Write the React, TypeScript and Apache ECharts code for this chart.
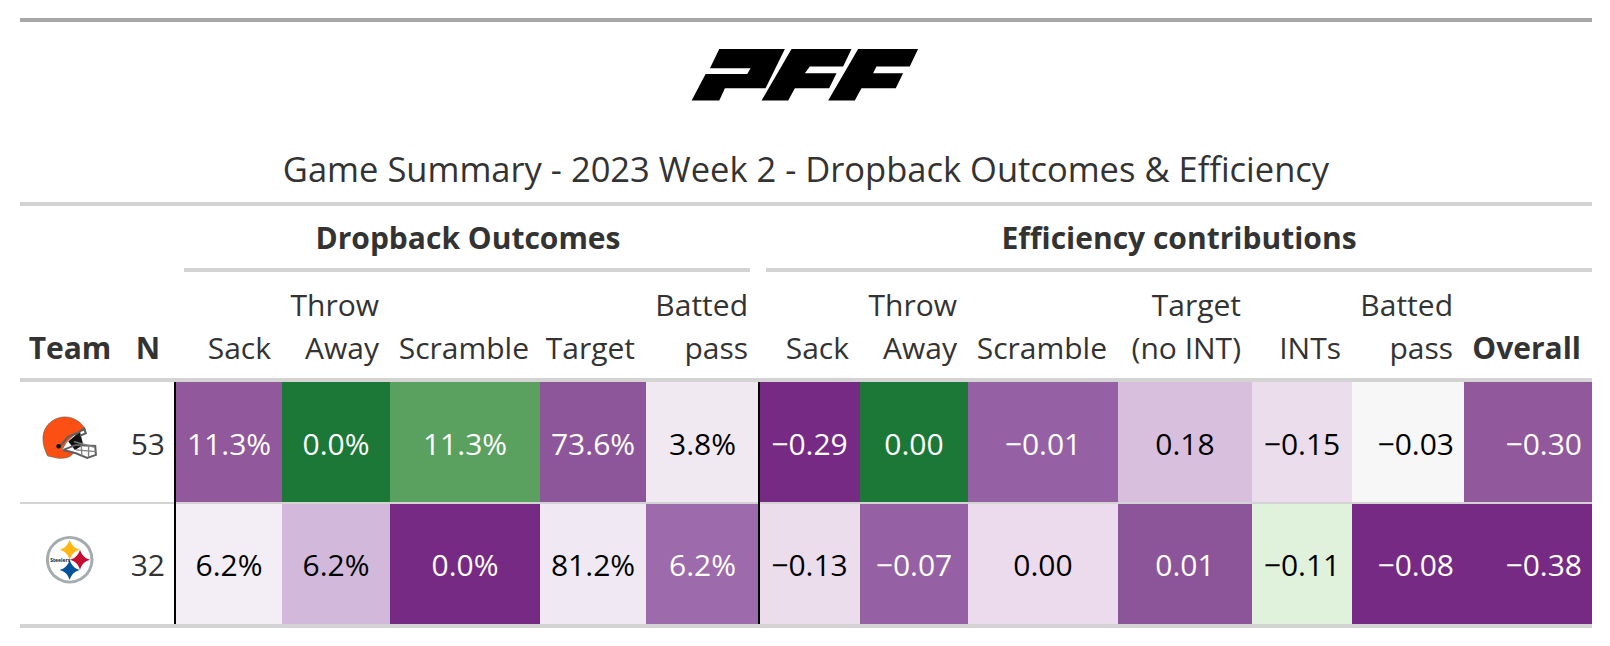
import React, { useEffect, useRef } from "react";
import * as echarts from "echarts";

const TITLE = "Game Summary - 2023 Week 2 - Dropback Outcomes & Efficiency";
const GROUP_HEADERS = ["Dropback Outcomes", "Efficiency contributions"];
const TEAMS = ["Cleveland Browns", "Pittsburgh Steelers"];
const DROPBACKS = [53, 32];
const COLUMN_LABELS = [
  ["Sack"], ["Throw", "Away"], ["Scramble"], ["Target"], ["Batted", "pass"],
  ["Sack"], ["Throw", "Away"], ["Scramble"], ["Target", "(no INT)"], ["INTs"], ["Batted", "pass"], ["Overall"],
];
const BROWNS_OUTCOMES = [11.3, 0.0, 11.3, 73.6, 3.8];
const BROWNS_EFFICIENCY = [-0.29, 0.0, -0.01, 0.18, -0.15, -0.03, -0.3];
const STEELERS_OUTCOMES = [6.2, 6.2, 0.0, 81.2, 6.2];
const STEELERS_EFFICIENCY = [-0.13, -0.07, 0.0, 0.01, -0.11, -0.08, -0.38];
const BROWNS_COLORS = ["#91589b", "#1b7837", "#5aa05f", "#8e569a", "#f1e9f2", "#762a83", "#1b7837", "#9561a4", "#d8bfdd", "#ebddec", "#f7f7f7", "#91589b"];
const STEELERS_COLORS = ["#f3eef6", "#d2b9db", "#762a83", "#f0e8f2", "#9d6bab", "#ebddec", "#9561a4", "#ebdbed", "#8d5599", "#e0f1dc", "#762a83", "#762a83"];

// layout of the table
const COLUMN_EDGES = [176, 282, 390, 540, 646, 759, 860, 968, 1118, 1252, 1352, 1464, 1592];
const FONT_FAMILY = '"Open Sans", "Noto Sans", sans-serif';
const BODY_SIZE = 30;
const HEAD_COLOR = "#333333";
const RULE_LIGHT = "#d3d3d3";

const fmtPct = (v: number) => v.toFixed(1) + "%";
const fmtEff = (v: number) => (v < 0 ? "\u2212" : "") + Math.abs(v).toFixed(2);
const isDark = (hex: string) => {
  const n = parseInt(hex.slice(1), 16);
  return (0.299 * (n >> 16) + 0.587 * ((n >> 8) & 255) + 0.114 * (n & 255)) / 255 < 0.58;
};

const cellRows = [
  { values: [...BROWNS_OUTCOMES.map(fmtPct), ...BROWNS_EFFICIENCY.map(fmtEff)], colors: BROWNS_COLORS },
  { values: [...STEELERS_OUTCOMES.map(fmtPct), ...STEELERS_EFFICIENCY.map(fmtEff)], colors: STEELERS_COLORS },
];
const cellData: any[] = [];
cellRows.forEach((r, row) => r.values.forEach((label, col) => cellData.push([col, row, label, r.colors[col]])));

const PFF_D =
  "M178 147L375 147L317 265L195 265L178 302L95 302L137 222L262 222L272 205L150 205Z" +
  "M395 147L575 147L550 200L450 200L435 220L530 220L508 265L405 265L385 302L305 302Z" +
  "M595 147L775 147L750 200L650 200L640 220L730 220L708 265L605 265L585 302L505 302Z";
const SHELL_D =
  "M129 205C129 168 160 141 195 141C222 141 244 156 258 180L232 186L200 216L186 240L220 246C218 260 200 266 175 265L143 258C134 240 129 225 129 205Z";
const STAR_D = "M0 -30C6 -13 13 -6 30 0C13 6 6 13 0 30C-6 13 -13 6 -30 0C-13 -6 -6 -13 0 -30Z";

echarts.graphic.registerShape("pffLogo", echarts.graphic.extendPath(PFF_D, {}));
echarts.graphic.registerShape("helmetShell", echarts.graphic.extendPath(SHELL_D, {}));
echarts.graphic.registerShape("steelStar", echarts.graphic.extendPath(STAR_D, {}));

const rule = (x1: number, x2: number, y1: number, y2: number, fill: string) => ({
  type: "rect", shape: { x: x1, y: y1, width: x2 - x1, height: y2 - y1 }, style: { fill }, silent: true,
});
const txt = (text: string, x: number, y: number, align: string, font: string, fill = HEAD_COLOR) => ({
  type: "text", x, y, silent: true, style: { text, font, fill, align, verticalAlign: "middle" },
});

function headerElements() {
  const regular = `${BODY_SIZE}px ${FONT_FAMILY}`;
  const bold = `700 ${BODY_SIZE}px ${FONT_FAMILY}`;
  const out: any[] = [
    rule(20, 1592, 18, 22, "#a8a8a8"),
    rule(20, 1592, 202, 206, RULE_LIGHT),
    rule(184, 750, 268, 272, RULE_LIGHT),
    rule(766, 1592, 268, 272, RULE_LIGHT),
    rule(20, 1592, 378, 382, RULE_LIGHT),
    rule(20, 1592, 502, 504, RULE_LIGHT),
    rule(20, 1592, 624, 628, RULE_LIGHT),
    rule(174, 176, 382, 624, "#000000"),
    rule(758, 760, 382, 624, "#000000"),
    { type: "pffLogo", x: 660, y: 0, scaleX: 1 / 3, scaleY: 1 / 3, style: { fill: "#000000" }, silent: true },
    txt(TITLE, 806, 168, "center", `34.5px ${FONT_FAMILY}`),
    txt(GROUP_HEADERS[0], 468, 237, "center", bold),
    txt(GROUP_HEADERS[1], 1179, 237, "center", bold),
    txt("Team", 70, 347, "center", bold),
    txt("N", 148, 347, "center", bold),
  ];
  COLUMN_LABELS.forEach((lines, i) => {
    const right = COLUMN_EDGES[i + 1] - 11;
    const font = lines[0] === "Overall" ? bold : regular;
    lines.forEach((line, k) => out.push(txt(line, right, 347 - (lines.length - 1 - k) * 43, "right", font)));
  });
  return out;
}

function helmet() {
  const g = { scaleX: 1 / 3, scaleY: 1 / 3, x: 0, y: 370 };
  const mask = (points: number[][], stroke = "#5f5f5f", lineWidth = 6) => ({
    type: "polyline", shape: { points }, style: { stroke, fill: "none", lineWidth },
  });
  return {
    type: "group", silent: true, ...g,
    children: [
      { type: "polygon", shape: { points: [[205, 215], [240, 185], [250, 225], [225, 240]] }, style: { fill: "#111111" } },
      { type: "helmetShell", style: { fill: "#fb4f14", stroke: "#6e6259", lineWidth: 2 } },
      mask([[178, 232], [205, 200], [232, 190], [252, 176], [258, 190], [240, 198]]),
      mask([[190, 240], [228, 225], [286, 228], [288, 255], [262, 264], [228, 250], [190, 240]]),
      mask([[222, 215], [285, 232]], "#808080", 4),
      mask([[228, 240], [288, 245]], "#808080", 4),
      mask([[244, 225], [246, 258]], "#808080", 4),
      mask([[266, 226], [266, 262]], "#808080", 4),
      { type: "circle", shape: { cx: 176, cy: 229, r: 7 }, style: { fill: "#111111" } },
    ],
  };
}

function steelers() {
  const star = (x: number, y: number, fill: string) => ({
    type: "steelStar", x, y, scaleX: 1 / 3, scaleY: 1 / 3, style: { fill },
  });
  return {
    type: "group", silent: true, x: 69.7, y: 559.7,
    children: [
      { type: "circle", shape: { cx: 0, cy: 0, r: 22.3 }, style: { fill: "#ffffff", stroke: "#a5acaf", lineWidth: 3 } },
      star(0, -10, "#ffb612"),
      star(10.3, 0, "#c60c30"),
      star(0, 10.3, "#00539b"),
      { type: "text", x: -9.5, y: 0, style: { text: "Steelers", font: `700 5px ${FONT_FAMILY}`, fill: "#222222", align: "center", verticalAlign: "middle" } },
    ],
  };
}

function renderCell(params: any, api: any) {
  const col = api.value(0);
  const row = api.value(1);
  const label = cellData[params.dataIndex][2];
  const color = cellData[params.dataIndex][3];
  const [x0, yc] = api.coord([COLUMN_EDGES[col], row]);
  const [x1] = api.coord([COLUMN_EDGES[col + 1], row]);
  const band = api.size([0, 1])[1];
  const right = col === 11 || col === 10;
  return {
    type: "group",
    children: [
      { type: "rect", shape: { x: x0, y: yc - band / 2 + (row ? 1 : 0), width: x1 - x0, height: band - 1 }, style: { fill: color } },
      {
        type: "text", x: right ? x1 - 10 : (x0 + x1) / 2, y: yc + 1,
        style: { text: label, font: `${BODY_SIZE}px ${FONT_FAMILY}`, fill: isDark(color) ? "#ffffff" : "#000000", align: right ? "right" : "center", verticalAlign: "middle" },
      },
    ],
  };
}

function renderN(params: any, api: any) {
  const [, yc] = api.coord([0, api.value(1)]);
  return {
    type: "text", x: 165, y: yc + 1,
    style: { text: String(DROPBACKS[params.dataIndex]), font: `${BODY_SIZE}px ${FONT_FAMILY}`, fill: HEAD_COLOR, align: "right", verticalAlign: "middle" },
  };
}

export default function App() {
  const ref = useRef<HTMLDivElement>(null);
  useEffect(() => {
    document.body.style.margin = "0";
    const chart = echarts.init(ref.current!, undefined, { renderer: "svg" });
    chart.setOption({
      animation: false,
      backgroundColor: "#ffffff",
      grid: { left: 0, top: 382, width: 1610, height: 242 },
      xAxis: { type: "value", min: 0, max: 1610, show: false },
      yAxis: { type: "category", data: TEAMS, inverse: true, show: false },
      series: [
        { type: "custom", coordinateSystem: "cartesian2d", data: cellData.map((d) => [d[0], d[1]]), renderItem: renderCell, silent: true, z: 1 },
        { type: "custom", coordinateSystem: "cartesian2d", data: DROPBACKS.map((n, i) => [n, i]), renderItem: renderN, silent: true, z: 1 },
      ],
      graphic: { elements: [...headerElements().map((e) => ({ ...e, z: 5 })), helmet(), steelers()] },
    });
    return () => chart.dispose();
  }, []);
  return <div ref={ref} style={{ position: "absolute", left: 0, top: 0, width: 1610, height: 646 }} />;
}
